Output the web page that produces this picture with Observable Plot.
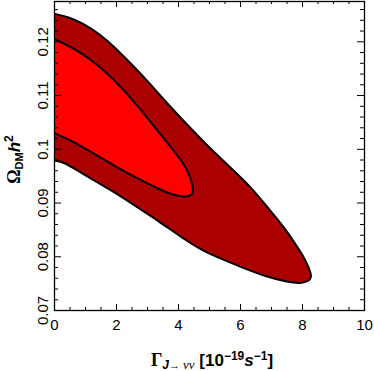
<!DOCTYPE html>
<html><head><meta charset="utf-8">
<script src="https://cdn.jsdelivr.net/npm/d3@7"></script>
<script src="https://cdn.jsdelivr.net/npm/@observablehq/plot@0.6"></script>
<style>body{margin:0;background:#fff}#chart svg{display:block}</style>
</head><body><div id="chart"></div>
<script>
// 2-sigma (outer) region boundary
const outerX = [0, 0.45, 0.9, 1.49, 1.92, 2.46, 3.05, 3.64, 4.39, 4.88, 5.36, 5.79, 6.33, 6.87, 7.41, 7.84, 8.11, 8.27, 8.28, 8.22, 7.95, 7.52, 6.87, 6.01, 5.26, 4.72, 4.07, 3.32, 2.67, 2.03, 1.27, 0.73, 0.3, 0];
const outerY = [0.1252, 0.1246, 0.1235, 0.1213, 0.1191, 0.1160, 0.1124, 0.1085, 0.1039, 0.1010, 0.0983, 0.0960, 0.0930, 0.0892, 0.0855, 0.0818, 0.0793, 0.0770, 0.0762, 0.0755, 0.0750, 0.0753, 0.0762, 0.0781, 0.0799, 0.0813, 0.0837, 0.0868, 0.0892, 0.0917, 0.0942, 0.0961, 0.0976, 0.0979];
// 1-sigma (inner) region boundary
const innerX = [0, 0.73, 1.49, 2.35, 3.1, 3.75, 4.18, 4.39, 4.48, 4.46, 4.29, 3.85, 3.32, 2.67, 2.03, 1.27, 0.52, 0];
const innerY = [0.1205, 0.1185, 0.1154, 0.1104, 0.1051, 0.1004, 0.0973, 0.0948, 0.0925, 0.0916, 0.0911, 0.0914, 0.0927, 0.0946, 0.0966, 0.0992, 0.1017, 0.1030];

const xMajor = [0, 2, 4, 6, 8, 10];
const xTickLabels = ["0", "2", "4", "6", "8", "10"];
const xMinor = [0.5, 1, 1.5, 2.5, 3, 3.5, 4.5, 5, 5.5, 6.5, 7, 7.5, 8.5, 9, 9.5];
const yMajor = [0.07, 0.08, 0.09, 0.10, 0.11, 0.12];
const yTickLabels = ["0.07", "0.08", "0.09", "0.1", "0.11", "0.12"];
const yMinor = [0.072, 0.074, 0.076, 0.078, 0.082, 0.084, 0.086, 0.088, 0.092, 0.094, 0.096, 0.098,
  0.102, 0.104, 0.106, 0.108, 0.112, 0.114, 0.116, 0.118, 0.122, 0.124, 0.126];

const outer = outerX.map((x, i) => ({x, y: outerY[i]}));
const inner = innerX.map((x, i) => ({x, y: innerY[i]}));

const W = 374, H = 371, mL = 54, mR = 10, mT = 1, mB = 61;
const pw = W - mL - mR, ph = H - mT - mB;
const font = "Liberation Sans, Arial, sans-serif";

const chart = Plot.plot({
  width: W, height: H,
  marginLeft: mL, marginRight: mR, marginTop: mT, marginBottom: mB,
  style: {fontFamily: font, background: "#fff", overflow: "visible"},
  x: {domain: [0, 10], axis: null},
  y: {domain: [0.07, 0.1275], axis: null},
  marks: [
    Plot.line(outer, {x: "x", y: "y", curve: "basis", fill: "#aa0000", stroke: "black", strokeWidth: 2, clip: true}),
    Plot.line(inner, {x: "x", y: "y", curve: "basis", fill: "#ff0000", stroke: "black", strokeWidth: 2, clip: true}),
    // inward ticks on all four sides
    Plot.tickX(xMajor, {x: d => d, insetTop: ph - 6, stroke: "black"}),
    Plot.tickX(xMinor, {x: d => d, insetTop: ph - 3, stroke: "black"}),
    Plot.tickX(xMajor, {x: d => d, insetBottom: ph - 6, stroke: "black"}),
    Plot.tickX(xMinor, {x: d => d, insetBottom: ph - 3, stroke: "black"}),
    Plot.tickY(yMajor, {y: d => d, insetRight: pw - 7, stroke: "black"}),
    Plot.tickY(yMinor, {y: d => d, insetRight: pw - 4, stroke: "black"}),
    Plot.tickY(yMajor, {y: d => d, insetLeft: pw - 7, stroke: "black"}),
    Plot.tickY(yMinor, {y: d => d, insetLeft: pw - 4, stroke: "black"}),
    Plot.frame({stroke: "black", strokeWidth: 1.3}),
    Plot.text(xMajor, {x: d => d, text: (d, i) => xTickLabels[i], frameAnchor: "bottom", dy: 15, lineAnchor: "middle", fontSize: 15, fill: "black"}),
    Plot.text(yMajor, {y: d => d, text: (d, i) => yTickLabels[i], frameAnchor: "left", dx: -11, rotate: -90, textAnchor: "middle", lineAnchor: "middle", fontSize: 15, fill: "black"})
  ]
});
document.getElementById("chart").appendChild(chart);

const svg = d3.select(chart);
// x-axis title
const xt = svg.append("text")
  .attr("x", mL + pw / 2 + 3).attr("y", H - 5)
  .attr("text-anchor", "middle").attr("font-family", font)
  .attr("font-weight", "bold").attr("font-size", 17).attr("fill", "black");
xt.append("tspan").attr("font-family", "Liberation Serif, serif").attr("font-size", 18).text("Γ");
xt.append("tspan").attr("font-style", "italic").attr("font-size", 12).attr("dy", 3).text("J");
xt.append("tspan").attr("font-weight", "normal").attr("font-size", 11).text("→ ");
xt.append("tspan").attr("font-family", "Liberation Serif, serif").attr("font-style", "italic").attr("font-weight", "normal").attr("font-size", 13).text("νν");
xt.append("tspan").attr("dy", -3).text(" [10");
xt.append("tspan").attr("font-size", 12).attr("dy", -6).text("−19");
xt.append("tspan").attr("font-style", "italic").attr("dy", 6).text("s");
xt.append("tspan").attr("font-size", 12).attr("dy", -6).text("−1");
xt.append("tspan").attr("dy", 6).text("]");

// y-axis title
const yt = svg.append("text")
  .attr("transform", `translate(20,${mT + ph / 2 + 4}) rotate(-90)`)
  .attr("text-anchor", "middle").attr("font-family", font)
  .attr("font-weight", "bold").attr("font-size", 17).attr("fill", "black");
yt.append("tspan").attr("font-family", "Liberation Serif, serif").attr("font-size", 18).text("Ω");
yt.append("tspan").attr("font-size", 11).attr("dy", 3).text("DM");
yt.append("tspan").attr("font-style", "italic").attr("dy", -3).text("h");
yt.append("tspan").attr("font-size", 12).attr("dy", -7).text("2");
</script>
</body></html>
